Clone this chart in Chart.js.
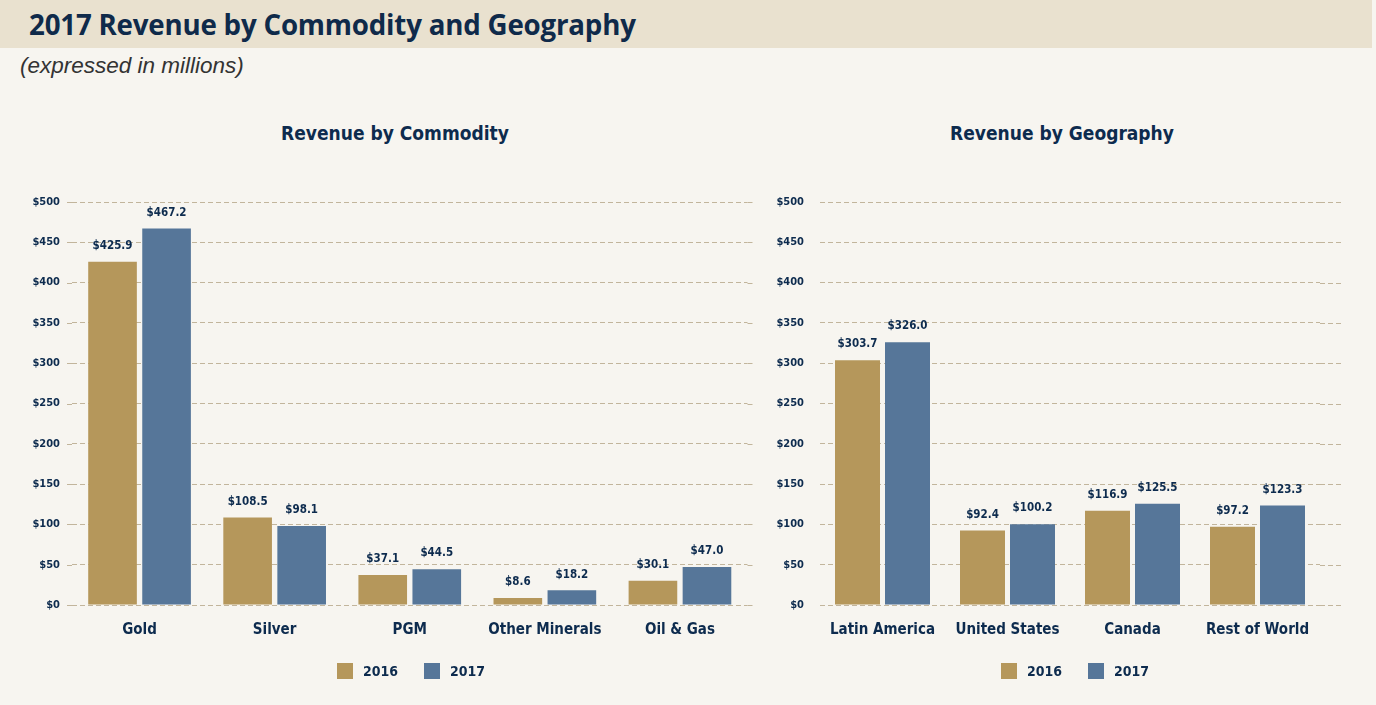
<!DOCTYPE html>
<html>
<head>
<meta charset="utf-8">
<script src="https://cdn.jsdelivr.net/npm/chart.js@4/dist/chart.umd.min.js"></script>
<style>
  html, body { margin: 0; padding: 0; }
  body { width: 1376px; height: 705px; overflow: hidden; background: #f7f5f0; position: relative; }
  .banner { position: absolute; left: 0; top: 0; width: 1372px; height: 48px; background: #e9e1cf; }
  .banner h1 { margin: 0; position: absolute; left: 29px; top: 5px; font-family: "Open Sans", sans-serif; font-weight: 700; font-size: 27.7px; color: #0f2a4a; letter-spacing: -0.2px; }
  .sub { position: absolute; left: 20px; top: 53px; font-family: "Liberation Sans", Arial, sans-serif; font-style: italic; font-size: 22.5px; color: #333; }
  .chart_title { position: absolute; top: 121px; width: 400px; margin-left: -200px; text-align: center; font-family: "DejaVu Sans Condensed", "DejaVu Sans", sans-serif; font-weight: bold; font-size: 19px; line-height: 24px; color: #0d2b4e; }
  canvas { position: absolute; }
  #commodity_chart { left: 0; top: 100px; }
  #geography_chart { left: 760px; top: 100px; }
  .legend { position: absolute; top: 662px; font-family: "DejaVu Sans Condensed", "DejaVu Sans", sans-serif; font-weight: bold; font-size: 14px; color: #0d2b4e; white-space: nowrap; }
  .legend span { display: inline-block; vertical-align: middle; }
  .legend .box { width: 16px; height: 16px; margin-right: 10px; }
  .legend .gap { width: 26px; }
</style>
</head>
<body>
<div class="banner"><h1>2017 Revenue by Commodity and Geography</h1></div>
<div class="sub">(expressed in millions)</div>
<div class="chart_title" style="left:395px">Revenue by Commodity</div>
<div class="chart_title" style="left:1062px">Revenue by Geography</div>
<canvas id="commodity_chart" width="760" height="610" style="width:760px;height:610px"></canvas>
<canvas id="geography_chart" width="616" height="610" style="width:616px;height:610px"></canvas>
<div class="legend" id="commodity_legend" style="left:337px"></div>
<div class="legend" id="geography_legend" style="left:1001px"></div>
<script>
var commodities = ['Gold', 'Silver', 'PGM', 'Other Minerals', 'Oil & Gas'];
var commodity_2016 = [425.9, 108.5, 37.1, 8.6, 30.1];
var commodity_2017 = [467.2, 98.1, 44.5, 18.2, 47.0];

var regions = ['Latin America', 'United States', 'Canada', 'Rest of World'];
var region_2016 = [303.7, 92.4, 116.9, 97.2];
var region_2017 = [326.0, 100.2, 125.5, 123.3];

var y_ticks = [0, 50, 100, 150, 200, 250, 300, 350, 400, 450, 500];

var navy = '#0d2b4e';
var gold = '#b5975b';
var blue = '#567699';
var narrow = '"DejaVu Sans Condensed", "DejaVu Sans", sans-serif';

// draws the $ value on top of each bar
var bar_labels = {
  id: 'bar_labels',
  afterDatasetsDraw: function(chart) {
    var ctx = chart.ctx;
    ctx.save();
    ctx.font = 'bold 11.5px ' + narrow;
    ctx.fillStyle = navy;
    ctx.textAlign = 'center';
    ctx.textBaseline = 'bottom';
    chart.data.datasets.forEach(function(ds, i) {
      chart.getDatasetMeta(i).data.forEach(function(bar, j) {
        ctx.fillText('$' + ds.data[j].toFixed(1), bar.x, bar.y - 10);
      });
    });
    ctx.restore();
  }
};

// the dashed gridlines run a little past the plot area in the original
var grid_ext = {
  id: 'grid_ext',
  beforeDatasetsDraw: function(chart, args, opts) {
    var ctx = chart.ctx, area = chart.chartArea, y = chart.scales.y;
    ctx.save();
    ctx.strokeStyle = '#c2b59c';
    ctx.lineWidth = 1;
    ctx.setLineDash([5, 3]);
    y.ticks.forEach(function(t) {
      var py = Math.round(y.getPixelForValue(t.value)) + 0.5;
      ctx.beginPath();
      if (opts.left) { ctx.moveTo(area.left - opts.left, py); ctx.lineTo(area.left, py); }
      if (opts.right) { ctx.moveTo(area.right, py); ctx.lineTo(area.right + opts.right, py); }
      ctx.stroke();
    });
    ctx.restore();
  }
};

function build_legend(el, datasets){
  el.innerHTML = datasets.map(function(ds, i) {
    return (i ? '<span class="gap"></span>' : '') +
      '<span class="box" style="background:' + ds.backgroundColor + '"></span><span>' + ds.label + '</span>';
  }).join('');
}

function build_bar_chart(ctx, labels, data_2016, data_2017, y_width, y_pad, right_pad, ext){
  return new Chart(ctx, {
    type: 'bar',
    data: {
      labels: labels,
      datasets: [
        { label: '2016', data: data_2016, backgroundColor: gold },
        { label: '2017', data: data_2017, backgroundColor: blue }
      ]
    },
    plugins: [grid_ext, bar_labels],
    options: {
      responsive: false,
      animation: false,
      devicePixelRatio: 1,
      categoryPercentage: 0.8,
      barPercentage: 0.9,
      layout: { padding: { left: 0, right: right_pad, top: 102, bottom: 65 } },
      plugins: {
        grid_ext: ext,
        title: { display: false },
        legend: { display: false },
        tooltip: { enabled: false }
      },
      scales: {
        x: {
          grid: { display: false, drawTicks: false },
          border: { display: false },
          ticks: { color: navy, padding: 16, font: { family: narrow, size: 15, weight: 'bold' } },
          afterFit: function(axis) { axis.height = 40; }
        },
        y: {
          min: 0,
          max: 500,
          afterBuildTicks: function(axis) {
            axis.ticks = y_ticks.map(function(v) { return { value: v }; });
          },
          grid: { color: '#c2b59c', lineWidth: 1, drawTicks: false },
          border: { display: false, dash: [5, 3] },
          ticks: {
            color: navy,
            padding: y_pad,
            font: { family: narrow, size: 11, weight: 'bold' },
            callback: function(v) { return '$' + v; }
          },
          afterFit: function(axis) { axis.width = y_width; }
        }
      }
    }
  });
}

var commodity_chart = build_bar_chart(document.getElementById('commodity_chart').getContext('2d'),
  commodities, commodity_2016, commodity_2017, 72, 12, 12.5, { left: 5, right: 8 });
var geography_chart = build_bar_chart(document.getElementById('geography_chart').getContext('2d'),
  regions, region_2016, region_2017, 60, 16, 56, { left: 0, right: 23 });

build_legend(document.getElementById('commodity_legend'), commodity_chart.data.datasets);
build_legend(document.getElementById('geography_legend'), geography_chart.data.datasets);
</script>
</body>
</html>
